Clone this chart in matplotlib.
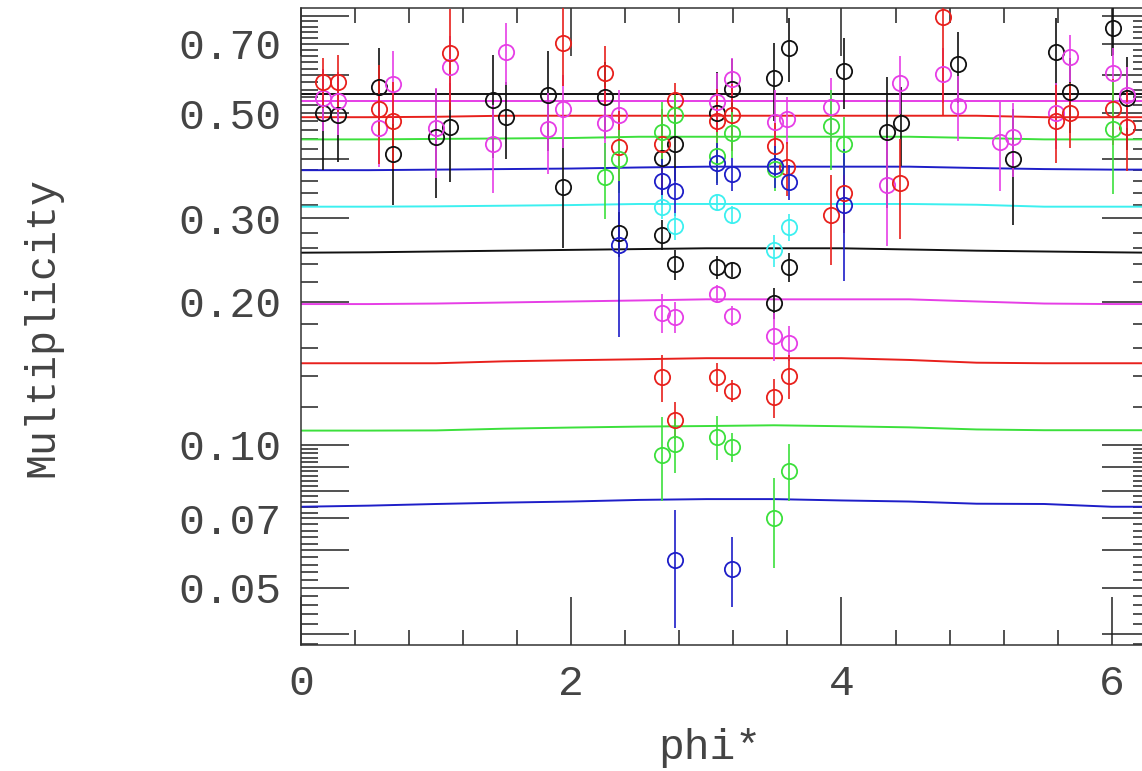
import numpy as np
import matplotlib.pyplot as plt
from matplotlib.ticker import FixedLocator, FixedFormatter, NullFormatter

plt.rcParams['font.family'] = ['Liberation Mono', 'DejaVu Sans Mono']
plt.rcParams['font.size'] = 30

BLACK = '#111111'
MAGENTA = '#e63ee6'
RED = '#e8201c'
GREEN = '#3ce03c'
BLUE = '#1e1ec8'
CYAN = '#3cf0f0'

# --- model curves (sampled in phi*) ---
phi_grid = [0.0, 0.5, 1.0, 1.5, 2.0, 2.5, 3.0, 3.5, 4.0, 4.5, 5.0, 5.5, 6.0, 6.283]
black_top = [0.548] * 14
magenta_top = [0.530] * 14
red_top = [0.490, 0.490, 0.491, 0.4935, 0.4935, 0.4935, 0.4935, 0.4935, 0.4935, 0.4935, 0.4935, 0.490, 0.490, 0.490]
green_top = [0.440, 0.440, 0.441, 0.442, 0.443, 0.4457, 0.4457, 0.4457, 0.4457, 0.4457, 0.443, 0.440, 0.440, 0.440]
blue_top = [0.379, 0.379, 0.380, 0.381, 0.382, 0.384, 0.3855, 0.3855, 0.3855, 0.3855, 0.383, 0.381, 0.380, 0.380]
cyan_mid = [0.3175, 0.3175, 0.318, 0.319, 0.320, 0.3217, 0.3217, 0.3217, 0.3217, 0.3217, 0.3205, 0.3175, 0.3175, 0.3175]
black_mid = [0.254, 0.2545, 0.2555, 0.2565, 0.2575, 0.2585, 0.2595, 0.2595, 0.2595, 0.258, 0.2565, 0.2555, 0.2545, 0.254]
magenta_mid = [0.198, 0.198, 0.1985, 0.1995, 0.2005, 0.2015, 0.2026, 0.2026, 0.2026, 0.2026, 0.2005, 0.1985, 0.198, 0.198]
red_low = [0.1486, 0.1486, 0.1486, 0.1500, 0.1508, 0.1515, 0.1523, 0.1523, 0.1523, 0.151, 0.149, 0.1486, 0.1486, 0.1486]
green_low = [0.1072, 0.1072, 0.1073, 0.1082, 0.1088, 0.1093, 0.1096, 0.1100, 0.1095, 0.1089, 0.1078, 0.1074, 0.1074, 0.1074]
blue_low = [0.0741, 0.0745, 0.0751, 0.0756, 0.0760, 0.0766, 0.0769, 0.0769, 0.0764, 0.0760, 0.0752, 0.0751, 0.0741, 0.0741]

# --- measured points: phi*, multiplicity, error ---
black_phi = [0.16, 0.27, 0.58, 0.68, 1.00, 1.10, 1.42, 1.52, 1.83, 1.94, 2.25, 2.35, 2.67, 2.67, 2.77, 2.77,
             3.08, 3.19, 3.08, 3.19, 3.50, 3.61, 3.50, 3.61, 4.02, 4.34, 4.44, 4.86, 5.27, 5.59, 5.69, 6.01, 6.11]
black_val = [0.500, 0.495, 0.566, 0.410, 0.446, 0.468, 0.532, 0.491, 0.545, 0.350, 0.540, 0.279, 0.403, 0.277,
             0.430, 0.240, 0.237, 0.234, 0.499, 0.561, 0.199, 0.237, 0.592, 0.686, 0.614, 0.455, 0.476, 0.634,
             0.401, 0.673, 0.554, 0.754, 0.537]
black_err = [0.12, 0.10, 0.12, 0.09, 0.115, 0.11, 0.13, 0.09, 0.13, 0.09, 0.10, 0.03, 0.08, 0.02, 0.07, 0.017,
             0.013, 0.008, 0.11, 0.09, 0.015, 0.017, 0.11, 0.105, 0.105, 0.14, 0.09, 0.108, 0.11, 0.12, 0.10,
             0.09, 0.12]

magenta_phi = [0.16, 0.27, 0.68, 0.58, 1.00, 1.10, 1.42, 1.52, 1.83, 1.94, 2.25, 2.35, 2.67, 2.77, 3.08, 3.19,
               3.08, 3.19, 3.51, 3.60, 3.50, 3.61, 3.92, 4.34, 4.43, 4.75, 4.86, 5.17, 5.27, 5.59, 5.69, 6.01, 6.11]
magenta_val = [0.538, 0.530, 0.575, 0.464, 0.464, 0.626, 0.430, 0.673, 0.462, 0.511, 0.476, 0.495, 0.190, 0.186,
               0.528, 0.589, 0.208, 0.187, 0.479, 0.485, 0.170, 0.164, 0.514, 0.353, 0.578, 0.604, 0.517, 0.435,
               0.446, 0.499, 0.655, 0.606, 0.545]
magenta_err = [0.08, 0.08, 0.10, 0.08, 0.10, 0.10, 0.09, 0.10, 0.09, 0.09, 0.09, 0.065, 0.018, 0.014, 0.08, 0.065,
               0.009, 0.009, 0.08, 0.055, 0.02, 0.014, 0.08, 0.09, 0.08, 0.08, 0.08, 0.093, 0.08, 0.08, 0.075,
               0.08, 0.08]

red_phi = [0.16, 0.27, 0.58, 0.68, 1.10, 1.94, 2.25, 2.35, 2.67, 2.77, 3.08, 3.19, 3.51, 3.60, 3.92, 4.02, 4.43,
           4.75, 5.59, 5.69, 6.01, 6.11, 2.67, 2.77, 3.08, 3.19, 3.50, 3.61]
red_val = [0.582, 0.582, 0.511, 0.482, 0.668, 0.701, 0.606, 0.425, 0.430, 0.532, 0.482, 0.495, 0.426, 0.384,
           0.305, 0.340, 0.356, 0.795, 0.482, 0.500, 0.509, 0.468, 0.139, 0.113, 0.139, 0.130, 0.126, 0.140]
red_err = [0.07, 0.08, 0.12, 0.10, 0.16, 0.13, 0.085, 0.08, 0.08, 0.045, 0.08, 0.08, 0.05, 0.05, 0.066, 0.06,
           0.085, 0.30, 0.09, 0.078, 0.08, 0.09, 0.016, 0.01, 0.01, 0.007, 0.012, 0.015]

green_phi = [2.25, 2.35, 2.67, 2.77, 3.08, 3.19, 3.51, 3.92, 4.02, 6.01, 2.67, 2.77, 3.08, 3.19, 3.50, 3.61]
green_val = [0.366, 0.400, 0.457, 0.495, 0.406, 0.453, 0.382, 0.470, 0.430, 0.462,
             0.0953, 0.1003, 0.1041, 0.0992, 0.0701, 0.0883]
green_err = [0.067, 0.06, 0.07, 0.05, 0.05, 0.05, 0.04, 0.09, 0.06, 0.125,
             0.019, 0.013, 0.011, 0.007, 0.015, 0.012]

blue_phi = [2.35, 2.67, 2.77, 3.08, 3.19, 3.51, 3.61, 4.02, 2.77, 3.19]
blue_val = [0.264, 0.360, 0.343, 0.392, 0.372, 0.387, 0.358, 0.320, 0.0571, 0.0548]
blue_err = [0.095, 0.04, 0.04, 0.04, 0.03, 0.04, 0.03, 0.099, 0.016, 0.0093]

cyan_phi = [2.67, 2.77, 3.08, 3.19, 3.50, 3.61]
cyan_val = [0.3175, 0.289, 0.325, 0.305, 0.257, 0.288]
cyan_err = [0.018, 0.019, 0.012, 0.013, 0.02, 0.019]

fig = plt.figure(figsize=(11.42, 7.71), dpi=100)
ax = fig.add_axes([0.2636, 0.1634, 0.7434, 0.8262])

curves = [(black_top, BLACK), (magenta_top, MAGENTA), (red_top, RED), (green_top, GREEN),
          (blue_top, BLUE), (cyan_mid, CYAN), (black_mid, BLACK), (magenta_mid, MAGENTA),
          (red_low, RED), (green_low, GREEN), (blue_low, BLUE)]
for vals, col in curves:
    ax.plot(phi_grid, vals, color=col, lw=1.4, zorder=2)

points = [(black_phi, black_val, black_err, BLACK), (magenta_phi, magenta_val, magenta_err, MAGENTA),
          (red_phi, red_val, red_err, RED), (green_phi, green_val, green_err, GREEN),
          (blue_phi, blue_val, blue_err, BLUE), (cyan_phi, cyan_val, cyan_err, CYAN)]
for ph, v, e, col in points:
    ax.errorbar(ph, v, yerr=e, fmt='o', ms=11, mfc='none', mec=col, mew=1.3,
                ecolor=col, elinewidth=1.2, capsize=0, zorder=3)

ax.set_yscale('log')
ax.set_xlim(0, 2 * np.pi)
ax.set_ylim(0.0379, 0.832)

y_major = [0.04, 0.05, 0.06, 0.07, 0.08, 0.09, 0.1, 0.2, 0.3, 0.4, 0.5, 0.6, 0.7, 0.8]
y_labels = ['', '0.05', '', '0.07', '', '', '0.10', '0.20', '0.30', '', '0.50', '', '0.70', '']
ax.yaxis.set_major_locator(FixedLocator(y_major))
ax.yaxis.set_major_formatter(FixedFormatter(y_labels))
y_minor = np.concatenate([np.arange(0.038, 0.1, 0.002), np.arange(0.1, 0.82, 0.02)])
ax.yaxis.set_minor_locator(FixedLocator(y_minor))
ax.yaxis.set_minor_formatter(NullFormatter())

ax.xaxis.set_major_locator(FixedLocator([0, 2, 4, 6]))
ax.xaxis.set_major_formatter(FixedFormatter(['0', '2', '4', '6']))
ax.xaxis.set_minor_locator(FixedLocator(np.arange(0.4, 6.3, 0.4)))

ax.tick_params(which='both', direction='in', top=True, right=True, color='#222222', width=1.1)
ax.tick_params(which='major', length=34.5, labelsize=31, pad=14)
ax.tick_params(which='minor', length=12)
ax.tick_params(axis='x', which='minor', length=11)
for s in ax.spines.values():
    s.set_color('#333333')
    s.set_linewidth(1.1)

ax.set_ylabel('Multiplicity', fontsize=30, color='#444444')
ax.yaxis.set_label_coords(-0.2815, 0.5)
ax.set_xlabel('phi*', fontsize=31, color='#444444')
ax.xaxis.set_label_coords(0.482, -0.130)
for lab in ax.get_xticklabels() + ax.get_yticklabels():
    lab.set_color('#444444')

fig.savefig('out.png', dpi=100)
